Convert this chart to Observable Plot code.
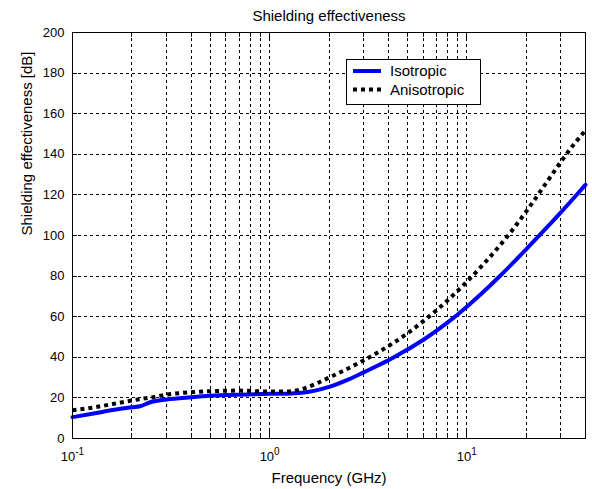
<!DOCTYPE html>
<html>
<head>
<meta charset="utf-8">
<script src="https://cdn.jsdelivr.net/npm/d3@7"></script>
<script src="https://cdn.jsdelivr.net/npm/@observablehq/plot@0.6"></script>
<style>
  html, body { margin: 0; padding: 0; background: #ffffff; }
  svg { display: block; }
</style>
</head>
<body>
<div id="chart"></div>
<script>
// ---- data ----
const freqGHz     = [0.1, 0.13, 0.16, 0.2, 0.22, 0.25, 0.3, 0.4, 0.5, 0.7, 1.0, 1.2, 1.45, 1.7, 2, 2.5, 3, 4, 5, 6, 7, 8, 9, 10, 12, 14.6, 17, 20, 25, 30, 35, 40];
const isotropic   = [10.5, 12.4, 14, 15.4, 15.9, 18, 19.2, 20.3, 21, 21.6, 22, 22.1, 22.5, 23.6, 25.4, 29, 32.6, 38.5, 43.8, 48.5, 53, 57.2, 61.1, 64.9, 71.8, 79.7, 86.1, 93.2, 103.1, 111.4, 118.6, 125];
const anisotropic = [13.9, 15.4, 17, 18.7, 19.4, 20.2, 21.6, 22.8, 23.3, 23.6, 23.1, 23.1, 24.3, 26.8, 30, 34.5, 38.5, 45.5, 51.8, 57.7, 63.1, 68.1, 72.8, 77.2, 85.3, 94.7, 102.6, 111.8, 125.2, 136.3, 145, 151.8];

const seriesNames = ["Isotropic", "Anisotropic"];
const titleText = "Shielding effectiveness";
const xLabel = "Frequency (GHz)";
const yLabel = "Shielding effectiveness [dB]";

const xMajorTicks = [0.1, 1, 10];
const xTickExponents = ["-1", "0", "1"];
const xMinorTicks = [0.2, 0.3, 0.4, 0.5, 0.6, 0.7, 0.8, 0.9, 2, 3, 4, 5, 6, 7, 8, 9, 20, 30];
const yTicks = [0, 20, 40, 60, 80, 100, 120, 140, 160, 180, 200];
const yGridValues = [20, 40, 60, 80, 100, 120, 140, 160, 180];
const xDomain = [0.1, 40];
const yDomain = [0, 200];

// ---- build table ----
const rows = [];
freqGHz.forEach((f, i) => {
  rows.push({f, v: isotropic[i], s: seriesNames[0]});
  rows.push({f, v: anisotropic[i], s: seriesNames[1]});
});
const isoRows = rows.filter(d => d.s === seriesNames[0]);
const anisoRows = rows.filter(d => d.s === seriesNames[1]);

const FONT = "'Liberation Sans', Arial, Helvetica, sans-serif";

const chart = Plot.plot({
  width: 592,
  height: 489,
  marginLeft: 72,
  marginRight: 7,
  marginTop: 32,
  marginBottom: 51,
  style: {fontFamily: FONT, fontSize: "13px", background: "#ffffff", color: "#000000", overflow: "visible"},
  x: {type: "log", domain: xDomain},
  y: {domain: yDomain},
  marks: [
    Plot.ruleY(yGridValues, {stroke: "#000", strokeWidth: 1, strokeDasharray: "3,3", shapeRendering: "crispEdges"}),
    Plot.ruleX(xMajorTicks.concat(xMinorTicks).filter(d => d > xDomain[0]), {stroke: "#000", strokeWidth: 1, strokeDasharray: "3,3", shapeRendering: "crispEdges"}),
    Plot.line(isoRows, {x: "f", y: "v", stroke: "#0000ff", strokeWidth: 4, curve: "monotone-x"}),
    Plot.line(anisoRows, {x: "f", y: "v", stroke: "#000000", strokeWidth: 4, strokeDasharray: "4,4", strokeLinecap: "butt", curve: "monotone-x"}),
    Plot.frame({stroke: "#000", strokeWidth: 1, shapeRendering: "crispEdges"}),
    Plot.axisY({ticks: yTicks, tickSize: 0, tickPadding: 8, label: null, fontSize: 13}),
    Plot.axisX({ticks: xMajorTicks, tickSize: 0, tickPadding: 13, tickFormat: () => "10", label: null, fontSize: 13}),
    Plot.text([titleText], {frameAnchor: "top", dy: -12, lineAnchor: "bottom", fontSize: 15, fill: "#000"}),
    Plot.text([xLabel], {frameAnchor: "bottom", dy: 44, lineAnchor: "bottom", fontSize: 15, fill: "#000"}),
    Plot.text([yLabel], {frameAnchor: "left", dx: -41, rotate: -90, lineAnchor: "bottom", fontSize: 15, fill: "#000"})
  ]
});

document.getElementById("chart").appendChild(chart);

// ---- post-processing: exponents, inward ticks, legend ----
const svg = d3.select(chart);
const sx = chart.scale("x");
const sy = chart.scale("y");

svg.selectAll('g[aria-label="x-axis tick label"] text').each(function(_, i) {
  const t = d3.select(this);
  t.text("10");
  t.append("tspan").attr("dy", "-0.55em").attr("font-size", "10px").text(xTickExponents[i]);
});

const x0 = sx.apply(xDomain[0]), x1 = sx.apply(xDomain[1]);
const y0 = sy.apply(yDomain[0]), y1 = sy.apply(yDomain[1]);
const tickG = svg.append("g").attr("stroke", "#000").attr("stroke-width", 1).attr("shape-rendering", "crispEdges");
xMajorTicks.concat(xMinorTicks).forEach(v => {
  const px = Math.round(sx.apply(v)) + 0.5;
  const len = xMajorTicks.includes(v) ? 8 : 5;
  tickG.append("line").attr("x1", px).attr("x2", px).attr("y1", y0).attr("y2", y0 - len);
  tickG.append("line").attr("x1", px).attr("x2", px).attr("y1", y1).attr("y2", y1 + len);
});
yTicks.forEach(v => {
  const py = Math.round(sy.apply(v)) + 0.5;
  tickG.append("line").attr("x1", x0).attr("x2", x0 + 5).attr("y1", py).attr("y2", py);
  tickG.append("line").attr("x1", x1).attr("x2", x1 - 5).attr("y1", py).attr("y2", py);
});

// legend
const lg = svg.append("g").attr("font-family", FONT).attr("font-size", 15).attr("text-anchor", "start");
lg.append("rect").attr("x", 346.5).attr("y", 59.5).attr("width", 134).attr("height", 45)
  .attr("fill", "#fff").attr("stroke", "#000").attr("stroke-width", 1);
lg.append("line").attr("x1", 353).attr("x2", 381).attr("y1", 71).attr("y2", 71)
  .attr("stroke", "#0000ff").attr("stroke-width", 4);
lg.append("line").attr("x1", 353).attr("x2", 381).attr("y1", 89.5).attr("y2", 89.5)
  .attr("stroke", "#000").attr("stroke-width", 4).attr("stroke-dasharray", "4,4");
lg.append("text").attr("x", 390).attr("y", 75.5).attr("fill", "#000").text(seriesNames[0]);
lg.append("text").attr("x", 390).attr("y", 94.5).attr("fill", "#000").text(seriesNames[1]);
</script>
</body>
</html>
